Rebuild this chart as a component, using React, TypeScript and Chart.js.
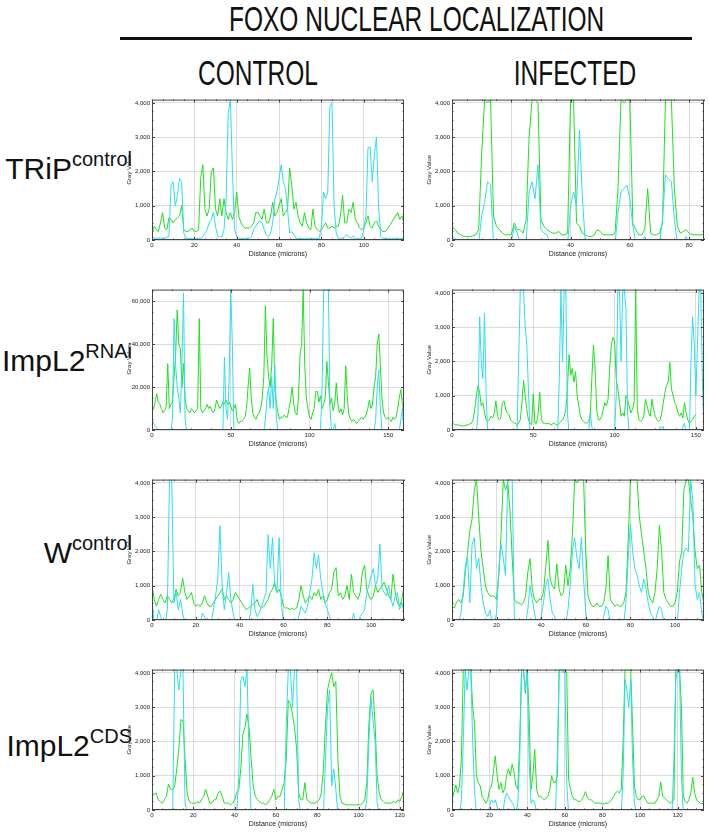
import { useEffect, useRef } from "react";
import { Chart, registerables } from "chart.js";

Chart.register(...registerables);

// Sample spacing of the intensity profiles (microns)
const STEP = 1;

// Axis tick values
const GRAY_TICKS_12BIT = [0, 1000, 2000, 3000, 4000];
const GRAY_TICKS_16BIT = [0, 20000, 40000, 60000];
const DIST_TICKS_20 = [0, 20, 40, 60, 80, 100, 120];
const DIST_TICKS_50 = [0, 50, 100, 150];

// Row 1 — TRiP control
const trip_control_green = [
  200, 400, 300, 250, 500, 800, 350, 300, 650, 600, 500, 600, 650, 700, 1000, 300, 250, 250, 300, 350,
  250, 250, 300, 1800, 2200, 900, 700, 900, 2000, 2100, 900, 700, 1200, 700, 1200, 800, 600, 800, 600, 800,
  1400, 700, 500, 400, 350, 350, 350, 400, 500, 800, 800, 700, 600, 900, 500, 500, 700, 1100, 700, 800,
  1000, 1200, 700, 800, 900, 2100, 1600, 900, 1100, 700, 500, 400, 800, 500, 350, 300, 900, 400, 300, 250,
  300, 400, 500, 350, 350, 400, 350, 400, 400, 700, 1300, 500, 500, 900, 800, 1100, 600, 500, 350, 300,
  350, 500, 700, 400, 350, 500, 550, 400, 300, 250, 250, 300, 400, 500, 600, 700, 800, 600, 700, 500,
];
const trip_control_cyan = [
  80, 60, 50, 60, 50, 60, 50, 80, 100, 1600, 1700, 1000, 1300, 1800, 1700, 200, 50, 50, 50, 50,
  50, 50, 50, 50, 100, 200, 300, 500, 600, 800, 400, 100, 100, 100, 300, 1200, 3700, 4095, 2000, 300,
  100, 50, 50, 50, 50, 50, 50, 100, 300, 400, 500, 550, 500, 300, 150, 100, 200, 500, 1200, 1400,
  1800, 2200, 1700, 1500, 900, 200, 250, 150, 50, 50, 50, 50, 50, 50, 50, 50, 50, 50, 50, 50,
  400, 1400, 1200, 1400, 3900, 4000, 1000, 200, 50, 50, 50, 100, 150, 100, 50, 120, 50, 50, 50, 50,
  300, 700, 2700, 2700, 1700, 2500, 3000, 1000, 100, 50, 50, 50, 50, 50, 50, 50, 50, 50, 50, 60,
];
const trip_infected_green = [
  400, 300, 200, 150, 100, 100, 100, 120, 150, 300, 2500, 4095, 4000, 4095, 700, 400, 300, 200, 150, 150,
  150, 500, 300, 300, 200, 600, 3000, 4095, 4095, 4000, 600, 400, 300, 250, 200, 200, 250, 150, 150, 200,
  4095, 4095, 500, 400, 200, 150, 100, 100, 150, 300, 250, 150, 150, 150, 150, 200, 1500, 4095, 4000, 4095,
  4095, 500, 300, 150, 150, 300, 1500, 200, 150, 150, 200, 500, 4095, 4095, 4095, 1500, 400, 200, 250, 300,
  200, 150, 150, 150, 150, 180,
];
const trip_infected_cyan = [
  100, 50, -100, -100, -100, -100, -100, -100, -100, -100, 700, 1100, 1700, 1600, -100, -100, -100, -100, -100, -100,
  -100, 400, 200, -100, -100, -100, 1400, 1700, 1200, 2200, 300, 200, 150, -100, -100, -100, -100, -100, -100, -100,
  1000, 1400, 1000, 3200, 1200, -100, -100, -100, -100, -100, -100, -100, -100, -100, -100, -100, 800, 1400, 1500, 1600,
  1200, 400, -100, -100, -100, 100, -100, -100, -100, -100, -100, 600, 1900, 1800, 1700, 600, -100, -100, -100, 100,
  -100, -100, -100, -100, -100, -100,
];

// Row 2 — ImpL2 RNAi
const rnai_control_green = [
  12000, 10000, 13000, 17000, 13000, 12000, 10000, 8000, 9000, 11000, 31000, 10000, 12000, 13000, 25000, 35000, 56000, 40000, 38000, 20000,
  31000, 15000, 10000, 9000, 8000, 10000, 9000, 8000, 9000, 10000, 52000, 10000, 8000, 9000, 10000, 12000, 10000, 11000, 9000, 8000,
  10000, 14000, 12000, 10000, 11000, 13000, 12000, 14000, 12000, 13000, 11000, 9000, 10000, 12000, 5000, 3000, 4000, 4000, 5000, 6000,
  10000, 20000, 29000, 15000, 8000, 6000, 5000, 7000, 8000, 10000, 15000, 25000, 58000, 35000, 25000, 20000, 30000, 52000, 20000, 12000,
  8000, 5000, 6000, 6000, 7000, 6000, 6000, 10000, 14000, 20000, 12000, 8000, 7000, 15000, 35000, 40000, 65500, 30000, 15000, 10000,
  6000, 5000, 8000, 10000, 18000, 18000, 13000, 16000, 10000, 12000, 15000, 32000, 22000, 12000, 15000, 9000, 12000, 22000, 12000, 8000,
  10000, 7000, 10000, 30000, 15000, 7000, 5000, 4000, 5000, 4000, 3000, 4000, 5000, 6000, 5000, 6000, 7000, 10000, 14000, 10000,
  12000, 20000, 25000, 40000, 44800, 30000, 15000, 8000, 6000, 5000, 6000, 5000, 4000, 6000, 5000, 6000, 10000, 15000, 19000, 12000,
  8000,
];
const rnai_control_cyan = [
  5000, 3000, 2000, 1000, -500, 500, -500, -500, -500, -500, -500, -500, -500, 5000, 52000, 30000, 20000, 15000, 8000, 30000,
  64000, 5000, -500, -500, -500, -500, -500, -500, -500, -500, -500, -500, -500, -500, -500, -500, -500, -500, -500, -500,
  -500, -500, -500, -500, -500, -500, 34000, 10000, 5000, 25000, 65535, 40000, -500, -500, -500, -500, -500, -500, -500, -500,
  -500, -500, -500, -500, -500, -500, -500, -500, -500, -500, -500, -500, 5000, 15000, 20000, 10000, 25000, 10000, 30000, 5000,
  -500, -500, -500, -500, -500, -500, -500, -500, -500, -500, -500, -500, -500, -500, -500, -500, -500, -500, -500, -500,
  -500, -500, -500, -500, -500, -500, -500, -500, 20000, 65535, 65535, 65535, 65535, 10000, -500, -500, 3000, -500, -500, -500,
  -500, -500, -500, -500, -500, -500, -500, -500, -500, -500, -500, -500, -500, -500, -500, -500, -500, -500, -500, -500,
  -500, -500, 5000, 20000, 28000, 10000, -500, -500, -500, -500, -500, -500, -500, -500, -500, -500, -500, -500, 5000, 10000,
  -500,
];
const rnai_infected_green = [
  200, 180, 150, 150, 150, 130, 120, 120, 130, 150, 150, 180, 200, 300, 600, 1000, 1300, 1100, 700, 800,
  500, 300, 250, 300, 400, 350, 500, 850, 400, 300, 350, 800, 850, 600, 500, 450, 300, 250, 200, 200,
  150, 200, 300, 800, 1450, 1000, 600, 300, 200, 150, 1050, 200, 200, 500, 1100, 300, 200, 200, 180, 200,
  180, 150, 180, 200, 150, 150, 200, 250, 300, 400, 600, 1200, 2200, 1600, 1800, 1400, 1700, 1000, 700, 400,
  300, 250, 200, 200, 250, 400, 1500, 2480, 1800, 600, 300, 300, 400, 600, 800, 700, 900, 1800, 2500, 2700,
  2600, 1500, 1200, 800, 400, 500, 400, 1000, 900, 700, 500, 600, 800, 4095, 600, 300, 250, 300, 400, 900,
  700, 500, 400, 900, 600, 400, 300, 250, 300, 500, 800, 1100, 1300, 1400, 1980, 1200, 1000, 800, 700, 500,
  400, 500, 350, 800, 500, 300, 200, 250, 300, 400, 450,
];
const rnai_infected_cyan = [
  -100, -100, -100, -100, -100, -100, -100, -100, -100, -100, -100, -100, -100, -100, -100, -100, 500, 3300, 2000, 1500,
  3400, 1000, -100, -100, -100, -100, -100, -100, -100, -100, -100, -100, -100, -100, -100, -100, -100, -100, -100, -100,
  -100, 2000, 4095, 4095, 4095, 3000, 2500, 1200, -100, -100, -100, -100, -100, -100, -100, -100, -100, -100, -100, -100,
  -100, -100, -100, -100, -100, -100, 1500, 4095, 2000, 4095, 4095, 500, -100, -100, -100, -100, -100, -100, -100, -100,
  -100, -100, -100, -100, -100, 500, 100, -100, -100, -100, -100, -100, -100, -100, -100, -100, -100, -100, -100, -100,
  -100, 1000, 4095, 4095, 2000, 4095, 4095, 3500, 500, -100, -100, -100, -100, -100, -100, -100, -100, -100, -100, -100,
  -100, -100, -100, -100, -100, -100, -100, -100, 100, 50, 100, -100, -100, -100, -100, -100, -100, -100, -100, -100,
  -100, -100, 100, 200, -100, -100, -100, 2000, 3300, 2500, 1000, 2500, 4095, 4095, 1500, -100,
];

// Row 3 — W control
const w_control_green = [
  1050, 600, 400, 600, 750, 600, 500, 700, 600, 500, 600, 900, 700, 800, 1220, 800, 600, 700, 800, 500,
  400, 450, 400, 500, 710, 500, 400, 400, 500, 600, 700, 800, 900, 600, 700, 600, 500, 600, 800, 700,
  600, 500, 400, 300, 350, 400, 450, 500, 600, 400, 350, 400, 500, 600, 800, 900, 1100, 800, 900, 700,
  400, 350, 350, 300, 350, 300, 350, 600, 1000, 700, 500, 600, 700, 600, 800, 700, 900, 600, 700, 500,
  600, 800, 900, 1400, 1530, 700, 800, 600, 700, 1000, 600, 1340, 800, 700, 600, 800, 1400, 1600, 900, 700,
  600, 700, 1000, 800, 900, 1000, 1100, 900, 700, 600, 1340, 800, 500, 400, 600, 1000,
];
const w_control_cyan = [
  600, -100, -100, 300, 100, -100, -100, 300, 4095, 4095, 500, 800, 300, 600, 200, -100, -100, -100, -100, -100,
  -100, -100, -100, 200, 100, -100, -100, -100, 300, 700, 1200, 2750, 1000, 300, 800, 1380, 600, 200, -100, -100,
  -100, -100, -100, -100, -100, 200, 1030, 300, 100, 200, 400, 600, 800, 2490, 1500, 2400, 1000, 800, 2400, 500,
  -100, -100, -100, -100, -100, -100, -100, 100, 400, 300, 200, 400, 800, 1200, 1960, 1500, 1900, 1200, 800, 500,
  300, 100, -100, -100, -100, -100, -100, -100, -100, -100, -100, -100, 200, -100, -100, 100, 200, 300, 800, 1000,
  1300, 1500, 1000, 1200, 2220, 900, 800, 700, 1000, 600, 400, 700, 800, 300, 500, 200,
];
const w_infected_green = [
  400, 350, 500, 600, 500, 700, 1400, 2000, 2600, 2950, 3800, 4095, 3000, 2000, 1500, 1000, 800, 700, 700, 700,
  600, 1300, 2500, 4095, 3800, 4000, 3200, 1800, 600, 500, 500, 450, 500, 700, 1400, 1790, 900, 600, 500, 600,
  600, 800, 1500, 2320, 1200, 1000, 900, 1640, 900, 700, 800, 1600, 1000, 1500, 2500, 4095, 4000, 4095, 4095, 4095,
  2000, 700, 500, 400, 400, 500, 400, 400, 500, 900, 1880, 600, 500, 400, 450, 400, 400, 500, 800, 2300,
  4095, 4095, 4095, 4095, 3000, 2500, 2000, 1500, 800, 600, 500, 800, 1500, 2760, 2000, 800, 600, 500, 400, 400,
  500, 800, 1700, 2000, 3800, 4095, 4095, 3530, 3000, 2000, 1500, 1600, 800, 500,
];
const w_infected_cyan = [
  -100, -100, -100, -100, 200, 800, 1600, 1800, 500, 2200, 2400, 1500, 1800, 1000, 500, 200, 100, 300, -100, -100,
  200, 1500, 2200, 1800, 1300, 4095, 4095, 4095, -100, -100, -100, -100, -100, -100, 300, 1000, 600, 200, -100, -100,
  100, 500, 1000, 1200, 600, 200, 100, -100, -100, -100, -100, -100, 300, 1000, 2000, 2400, 1800, 1500, 2400, 1200,
  200, -100, -100, -100, -100, -100, -100, -100, 100, 400, 300, -100, -100, -100, -100, -100, -100, -100, 500, 1800,
  2800, 2000, 1500, 1300, 1000, 800, 1200, 900, 500, 200, 100, -100, 200, 400, 300, -100, -100, -100, -100, -100,
  -100, -100, 800, 1500, 2000, 2100, 2000, 4095, 3500, 1000, 600, 800, 200, -100,
];

// Row 4 — ImpL2 CDS
const cds_control_green = [
  400, 450, 500, 300, 250, 200, 300, 400, 760, 600, 600, 700, 1200, 1800, 2640, 2600, 1500, 500, 250, 200,
  200, 200, 250, 200, 300, 400, 600, 400, 200, 200, 300, 300, 500, 550, 400, 200, 200, 200, 150, 200,
  300, 500, 600, 1200, 2200, 2400, 2800, 2400, 1500, 700, 400, 300, 250, 200, 200, 150, 200, 300, 400, 600,
  300, 400, 400, 600, 800, 1500, 3200, 3100, 2800, 2400, 1800, 500, 300, 300, 800, 300, 250, 200, 200, 200,
  250, 300, 500, 1200, 2500, 3500, 3800, 4000, 3600, 3750, 1500, 400, 200, 180, 150, 150, 150, 150, 150, 150,
  150, 150, 200, 300, 800, 2500, 3400, 3500, 2500, 1000, 500, 300, 250, 200, 200, 200, 200, 250, 200, 300,
  250, 400, 600,
];
const cds_control_cyan = [
  -100, -100, -100, -100, -100, -100, -100, -100, -100, -100, -100, 4095, 4095, 3500, 4095, 4095, 200, -100, -100, -100,
  -100, -100, -100, -100, -100, -100, -100, -100, -100, -100, -100, -100, -100, -100, -100, -100, -100, -100, -100, -100,
  -100, -100, 1000, 3800, 3900, 3600, 4095, 1500, -100, -100, -100, -100, -100, -100, -100, -100, -100, -100, -100, -100,
  -100, -100, -100, -100, -100, 2500, 4095, 4095, 3000, 4095, 4095, 300, -100, -100, -100, -100, -100, -100, -100, -100,
  -100, -100, -100, -100, 1500, 3000, 3500, 700, 1200, 600, -100, -100, -100, -100, -100, -100, -100, -100, -100, -100,
  -100, -100, -100, -100, 300, 2000, 3300, 2600, 2000, 200, -100, -100, -100, -100, -100, -100, -100, -100, -100, -100,
  -100, -100, -100,
];
const cds_infected_green = [
  300, 500, 730, 500, 700, 1500, 4095, 4095, 4095, 4095, 4095, 3000, 2500, 1000, 800, 700, 400, 300, 200, 300,
  600, 700, 1100, 1580, 1000, 600, 800, 500, 600, 1000, 1200, 1000, 1340, 1100, 700, 600, 2000, 4095, 4095, 3400,
  4095, 2800, 600, 1000, 1760, 600, 400, 400, 350, 300, 350, 400, 600, 1000, 800, 800, 1000, 4095, 4095, 4095,
  4095, 4000, 900, 600, 400, 300, 300, 250, 250, 300, 400, 540, 350, 300, 300, 250, 200, 200, 200, 200,
  180, 180, 200, 200, 250, 300, 400, 500, 550, 500, 600, 2000, 4095, 4095, 4095, 4095, 2500, 700, 400, 300,
  300, 400, 400, 300, 200, 200, 200, 200, 200, 300, 400, 820, 400, 350, 300, 250, 200, 250, 300, 4095,
  4095, 4095, 3000, 400, 250, 200, 300, 500, 960, 500, 300, 250, 200, 180, 200,
];
const cds_infected_cyan = [
  100, -100, -100, -100, -100, 300, 2000, 4095, 3500, 4095, 4095, 2000, 500, -100, -100, -100, -100, -100, -100, -100,
  100, 300, 200, 300, 100, -100, -100, -100, 300, 500, 400, 300, 200, 100, -100, 200, 1500, 4095, 4095, 3500,
  4095, 1500, 200, 300, 200, -100, -100, -100, -100, -100, -100, -100, -100, -100, -100, -100, 1500, 4095, 4095, 4000,
  4095, 800, -100, -100, -100, -100, -100, -100, -100, -100, -100, -100, -100, -100, -100, -100, -100, -100, -100, -100,
  -100, -100, -100, -100, -100, -100, -100, -100, -100, -100, -100, 1000, 3800, 3500, 3000, 3800, 1500, 200, -100, -100,
  -100, -100, -100, -100, -100, -100, -100, -100, -100, -100, -100, -100, -100, -100, -100, -100, -100, -100, 1500, 3800,
  4095, 4095, 1000, -100, -100, -100, -100, -100, -100, -100, -100, -100, -100, -100, -100,
];

const GREEN = "#20e020";
const CYAN = "#30dcf2";
const FONT = "'Liberation Sans', Arial, sans-serif";

// Frame round the plot area with ImageJ-style inward major/minor ticks
function makeFrame(xTicks: number[], yTicks: number[]) {
  return {
    id: "frame",
    afterDraw(chart: any) {
      const { ctx, chartArea: a, scales } = chart;
      const xs = scales.x;
      const ys = scales.y;
      ctx.save();
      ctx.strokeStyle = "#444";
      ctx.lineWidth = 1;
      ctx.strokeRect(a.left + 0.5, a.top + 0.5, a.right - a.left - 1, a.bottom - a.top - 1);
      ctx.beginPath();
      const xMinor = (xTicks[1] - xTicks[0]) / 4;
      for (let i = 0; i * xMinor <= xs.max; i++) {
        const p = Math.round(xs.getPixelForValue(i * xMinor)) + 0.5;
        const len = i % 4 === 0 ? 3 : 1.5;
        ctx.moveTo(p, a.bottom);
        ctx.lineTo(p, a.bottom - len);
        ctx.moveTo(p, a.top);
        ctx.lineTo(p, a.top + len);
      }
      const yMinor = (yTicks[1] - yTicks[0]) / 4;
      for (let i = 0; i * yMinor <= ys.max; i++) {
        const p = Math.round(ys.getPixelForValue(i * yMinor)) + 0.5;
        const len = i % 4 === 0 ? 3 : 1.5;
        ctx.moveTo(a.left, p);
        ctx.lineTo(a.left + len, p);
        ctx.moveTo(a.right, p);
        ctx.lineTo(a.right - len, p);
      }
      ctx.stroke();
      ctx.restore();
    },
  };
}

function Profile({
  green,
  cyan,
  yMax,
  yTicks,
  xTicks,
  style,
}: {
  green: number[];
  cyan: number[];
  yMax: number;
  yTicks: number[];
  xTicks: number[];
  style: React.CSSProperties;
}) {
  const ref = useRef<HTMLCanvasElement | null>(null);
  useEffect(() => {
    if (!ref.current) return;
    const xMax = (Math.max(green.length, cyan.length) - 1) * STEP;
    const toPoints = (arr: number[]) => arr.map((v, i) => ({ x: i * STEP, y: v }));
    const setTicks = (list: number[]) => (s: any) => {
      s.ticks = list.filter((v) => v <= s.max).map((value) => ({ value }));
    };
    const chart = new Chart(ref.current, {
      type: "line",
      data: {
        datasets: [
          { data: toPoints(cyan), borderColor: CYAN, borderWidth: 1, pointRadius: 0, tension: 0 },
          { data: toPoints(green), borderColor: GREEN, borderWidth: 1, pointRadius: 0, tension: 0 },
        ],
      },
      options: {
        animation: false,
        responsive: true,
        maintainAspectRatio: false,
        layout: { padding: { top: 3, right: 4, left: 0, bottom: 0 } },
        plugins: { legend: { display: false }, tooltip: { enabled: false } },
        scales: {
          x: {
            type: "linear",
            min: 0,
            max: xMax,
            afterBuildTicks: setTicks(xTicks),
            afterFit: (s: any) => {
              s.height = 18;
            },
            border: { display: false },
            grid: { color: "#d2d2d2", lineWidth: 0.8, drawTicks: false },
            ticks: {
              maxRotation: 0,
              autoSkip: false,
              padding: 2,
              color: "#222",
              font: { family: FONT, size: 6 },
            },
            title: {
              display: true,
              text: "Distance (microns)",
              color: "#222",
              padding: 0,
              font: { family: FONT, size: 7 },
            },
          },
          y: {
            type: "linear",
            min: 0,
            max: yMax,
            afterBuildTicks: setTicks(yTicks),
            afterFit: (s: any) => {
              s.width = 26;
            },
            border: { display: false },
            grid: { color: "#d2d2d2", lineWidth: 0.8, drawTicks: false },
            ticks: {
              autoSkip: false,
              padding: 2,
              color: "#222",
              font: { family: FONT, size: 6 },
              callback: (v: any) => Number(v).toLocaleString("en-US"),
            },
            title: {
              display: true,
              text: "Gray Value",
              color: "#222",
              padding: 0,
              font: { family: FONT, size: 6 },
            },
          },
        },
      },
      plugins: [makeFrame(xTicks, yTicks)],
    });
    return () => chart.destroy();
  }, [green, cyan, yMax, yTicks, xTicks]);

  return (
    <div style={{ position: "absolute", width: 282, height: 164, ...style }}>
      <canvas ref={ref}></canvas>
    </div>
  );
}

const condensed: React.CSSProperties = {
  position: "absolute",
  fontFamily: FONT,
  textAlign: "center",
  whiteSpace: "nowrap",
  transform: "scaleX(0.7)",
  color: "#111",
};

const rowLabel: React.CSSProperties = {
  position: "absolute",
  left: 0,
  width: 132,
  textAlign: "right",
  fontFamily: FONT,
  fontSize: 30,
  lineHeight: "30px",
  whiteSpace: "nowrap",
  color: "#111",
};

const sup: React.CSSProperties = { fontSize: 20, position: "relative", top: -13 };

export default function App() {
  const rowsTop = [94, 284, 474, 664];
  return (
    <div style={{ position: "absolute", left: 0, top: 0, width: 709, height: 836, background: "#fff" }}>
      <div style={{ ...condensed, left: 154, width: 500, top: 1, fontSize: 35, lineHeight: "35px" }}>
        FOXO NUCLEAR LOCALIZATION
      </div>
      <div style={{ position: "absolute", left: 120, top: 37, width: 572, height: 3, background: "#111" }} />
      <div style={{ ...condensed, left: 158, width: 200, top: 55, fontSize: 35, lineHeight: "35px" }}>CONTROL</div>
      <div style={{ ...condensed, left: 475, width: 200, top: 55, fontSize: 35, lineHeight: "35px" }}>INFECTED</div>

      <div style={{ ...rowLabel, top: 154 }}>
        TRiP<span style={sup}>control</span>
      </div>
      <div style={{ ...rowLabel, top: 346 }}>
        ImpL2<span style={sup}>RNAi</span>
      </div>
      <div style={{ ...rowLabel, top: 538 }}>
        W<span style={sup}>control</span>
      </div>
      <div style={{ ...rowLabel, top: 731 }}>
        ImpL2<span style={sup}>CDS</span>
      </div>

      <Profile green={trip_control_green} cyan={trip_control_cyan} yMax={4095} yTicks={GRAY_TICKS_12BIT} xTicks={DIST_TICKS_20} style={{ left: 126, top: rowsTop[0] }} />
      <Profile green={trip_infected_green} cyan={trip_infected_cyan} yMax={4095} yTicks={GRAY_TICKS_12BIT} xTicks={DIST_TICKS_20} style={{ left: 426, top: rowsTop[0] }} />
      <Profile green={rnai_control_green} cyan={rnai_control_cyan} yMax={65535} yTicks={GRAY_TICKS_16BIT} xTicks={DIST_TICKS_50} style={{ left: 126, top: rowsTop[1] }} />
      <Profile green={rnai_infected_green} cyan={rnai_infected_cyan} yMax={4095} yTicks={GRAY_TICKS_12BIT} xTicks={DIST_TICKS_50} style={{ left: 426, top: rowsTop[1] }} />
      <Profile green={w_control_green} cyan={w_control_cyan} yMax={4095} yTicks={GRAY_TICKS_12BIT} xTicks={DIST_TICKS_20} style={{ left: 126, top: rowsTop[2] }} />
      <Profile green={w_infected_green} cyan={w_infected_cyan} yMax={4095} yTicks={GRAY_TICKS_12BIT} xTicks={DIST_TICKS_20} style={{ left: 426, top: rowsTop[2] }} />
      <Profile green={cds_control_green} cyan={cds_control_cyan} yMax={4095} yTicks={GRAY_TICKS_12BIT} xTicks={DIST_TICKS_20} style={{ left: 126, top: rowsTop[3] }} />
      <Profile green={cds_infected_green} cyan={cds_infected_cyan} yMax={4095} yTicks={GRAY_TICKS_12BIT} xTicks={DIST_TICKS_20} style={{ left: 426, top: rowsTop[3] }} />
    </div>
  );
}
